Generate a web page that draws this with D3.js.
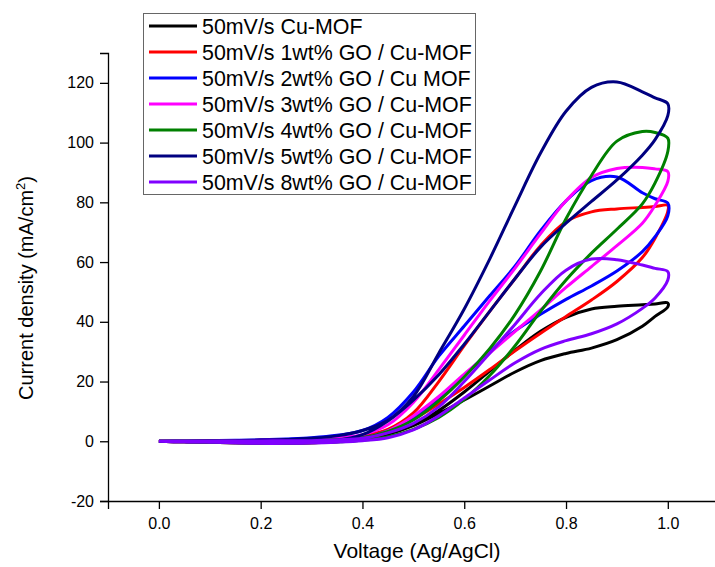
<!DOCTYPE html>
<html><head><meta charset="utf-8">
<script src="https://cdn.jsdelivr.net/npm/d3@7"></script>
<style>body{margin:0;background:#fff;} svg{display:block;} text{font-family:Arial,"Liberation Sans",sans-serif;}</style>
</head><body><svg id="c" width="715" height="567"></svg>
<script>
const voltage = [0,0.05,0.1,0.15,0.2,0.25,0.3,0.35,0.4,0.45,0.5,0.55,0.6,0.65,0.7,0.75,0.8,0.85,0.9,0.95,0.975,1.0];
const seriesNames = ["50mV/s Cu-MOF","50mV/s 1wt% GO / Cu-MOF","50mV/s 2wt% GO / Cu MOF","50mV/s 3wt% GO / Cu-MOF","50mV/s 4wt% GO / Cu-MOF","50mV/s 5wt% GO / Cu-MOF","50mV/s 8wt% GO / Cu-MOF"];
const seriesColors = ["#000000","#ff0000","#0000ff","#ff00ff","#008000","#000080","#8000ff"];
// forward (lower) branch, 0 -> 1.0 V
const cuMofFwd = [0,-0.2,-0.3,-0.5,-0.6,-0.6,-0.5,-0.2,0.6,2.3,5.2,9.3,13.8,18.5,23.2,27,29.4,31.2,34,38.5,41.8,45];
const go1Fwd   = [0,-0.2,-0.3,-0.5,-0.6,-0.6,-0.5,-0.1,0.8,3,7.3,12.5,18,24,30.3,36.2,41.8,47.3,53.5,61.5,68,77];
const go2Fwd   = [0,-0.2,-0.3,-0.5,-0.6,-0.6,-0.4,0,1,3.5,8,14.5,22,30,37,42.5,47.5,52,57,63.5,68.5,75.5];
const go3Fwd   = [0,-0.2,-0.3,-0.5,-0.6,-0.6,-0.4,0,1,3.5,8.5,15,22.5,29.5,36.8,44,51.5,58.5,65.5,73,79,87];
const go4Fwd   = [0,-0.2,-0.3,-0.5,-0.6,-0.6,-0.5,-0.2,0.3,1.5,4,8,14,22,32,43.5,54,63,71,79.5,86.5,97];
const go5Fwd   = [0,-0.1,-0.2,-0.4,-0.5,-0.5,-0.3,0.3,2.2,6.8,13.8,22.3,32.5,43.5,54.5,65,73,80.3,87.5,95.8,101,109];
const go8Fwd   = [0,-0.2,-0.3,-0.5,-0.7,-0.7,-0.6,-0.3,0.2,1.2,3.8,8.5,14.5,20.5,26.3,30.8,33.7,36,39.3,44.5,48,54];
// reverse (upper) branch, listed on the same ascending voltage grid
const cuMofRev = [0,0,0,0.1,0.1,0.2,0.2,0.4,0.9,2.4,5.4,10.3,16.5,23.5,30.5,36.8,41.5,44.3,45.2,45.7,46,46.3];
const go1Rev   = [0,0,0.1,0.2,0.3,0.4,0.6,1.0,1.8,4,9.5,20,32,43.5,54.5,65.5,73.5,76.8,77.8,78.3,78.6,79];
const go2Rev   = [0,0.1,0.2,0.3,0.5,0.8,1.2,2.0,3.6,8,16.5,28.5,38.6,48.7,58.7,70.5,80.5,87.3,88.5,83.2,81.2,79.7];
const go3Rev   = [0,0,0.1,0.2,0.3,0.5,0.7,1.2,2.2,5.5,13,24,35.5,47,58,69.5,80.5,88.3,91.3,91.7,91.2,90.3];
const go4Rev   = [0,0,0,0.1,0.2,0.2,0.3,0.6,1.2,3.3,7.1,13.5,21.5,31,42.5,57,74.5,89,100.5,103.7,103.4,101.5];
const go5Rev   = [0,0,0.1,0.2,0.4,0.6,1.0,1.8,3.6,7,15,29.5,44.3,61,79,96.5,110.5,118.5,120.3,117,115,113];
const go8Rev   = [0,0,0,0.1,0.1,0.2,0.2,0.5,1.0,2.8,6,11.5,20,29.5,39.2,49.3,57.3,61,60.8,59,57.9,56.8];
const fwdList = [cuMofFwd, go1Fwd, go2Fwd, go3Fwd, go4Fwd, go5Fwd, go8Fwd];
const revList = [cuMofRev, go1Rev, go2Rev, go3Rev, go4Rev, go5Rev, go8Rev];
const xMajorTicks = [0, 0.2, 0.4, 0.6, 0.8, 1.0];
const yMajorTicks = [-20, 0, 20, 40, 60, 80, 100, 120];
const xTitle = "Voltage (Ag/AgCl)";

const svg = d3.select("#c");
const x = d3.scaleLinear().domain([-0.1, 1.1]).range([108, 718.7]);
const y = d3.scaleLinear().domain([-20, 130]).range([501, 53]);

// curves
const line = d3.line().x(d => x(d[0])).y(d => y(d[1])).curve(d3.curveCatmullRom.alpha(0.5));
fwdList.forEach((f, i) => {
  const pts = voltage.map((v, k) => [v, f[k]]);
  const rev = revList[i];
  for (let k = voltage.length - 1; k >= 0; k--) pts.push([voltage[k], rev[k]]);
  svg.append("path").attr("d", line(pts)).attr("fill", "none")
    .attr("stroke", seriesColors[i]).attr("stroke-width", 3).attr("stroke-linejoin", "round");
});

// axes
const font = "Arial, 'Liberation Sans', sans-serif";
const xMinor = d3.range(-0.1, 1.11, 0.1).map(v => +v.toFixed(2));
const yMinor = d3.range(-20, 131, 10);
const gx = svg.append("g").attr("transform", "translate(0,501)");
gx.call(d3.axisBottom(x).tickValues(xMinor).tickSize(4).tickFormat(""));
gx.call(d3.axisBottom(x).tickValues(xMajorTicks).tickSize(8).tickPadding(9).tickFormat(d => d.toFixed(1)));
gx.selectAll("path.domain").attr("stroke", "#000").attr("stroke-width", 1.3);
gx.selectAll("line").attr("stroke", "#000").attr("stroke-width", 1.3);
gx.selectAll("text").attr("font-size", 16).attr("fill", "#000").attr("font-family", font);

const gy = svg.append("g").attr("transform", "translate(108,0)");
gy.call(d3.axisLeft(y).tickValues(yMinor).tickSize(4).tickFormat(""));
gy.call(d3.axisLeft(y).tickValues(yMajorTicks).tickSize(8).tickPadding(6).tickFormat(d => String(d)));
gy.selectAll("path.domain").attr("stroke", "#000").attr("stroke-width", 1.3);
gy.selectAll("line").attr("stroke", "#000").attr("stroke-width", 1.3);
gy.selectAll("text").attr("font-size", 16).attr("fill", "#000").attr("font-family", font);

// titles
svg.append("text").attr("x", 417).attr("y", 558).attr("text-anchor", "middle")
  .attr("font-size", 21).text(xTitle);
const yt = svg.append("text").attr("transform", "translate(33,288) rotate(-90)")
  .attr("text-anchor", "middle").attr("font-size", 20);
yt.append("tspan").text("Current density (mA/cm");
yt.append("tspan").attr("font-size", 13).attr("dy", -8).text("2");
yt.append("tspan").attr("dy", 8).text(")");

// legend
const lg = svg.append("g");
lg.append("rect").attr("x", 143.5).attr("y", 13.5).attr("width", 332).attr("height", 181)
  .attr("fill", "#fff").attr("stroke", "#666").attr("stroke-width", 1);
seriesNames.forEach((n, i) => {
  const cy = 26 + 26 * i;
  lg.append("line").attr("x1", 149).attr("x2", 197).attr("y1", cy).attr("y2", cy)
    .attr("stroke", seriesColors[i]).attr("stroke-width", 3);
  lg.append("text").attr("x", 202).attr("y", cy + 7.5).attr("font-size", 21.4).text(n);
});
</script></body></html>
